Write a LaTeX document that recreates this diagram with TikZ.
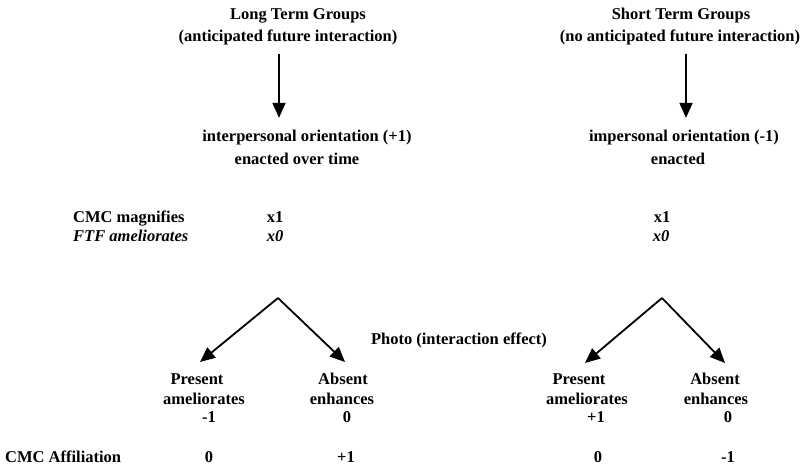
\documentclass[tikz,border=0pt]{standalone}
\usepackage{fontspec}
\setmainfont{Liberation Serif}
\usetikzlibrary{arrows.meta}
\tikzset{
  lbl/.style={anchor=base,inner sep=0pt,font=\fontsize{16.5}{19}\selectfont\bfseries},
  ilbl/.style={lbl,font=\fontsize{16.5}{19}\selectfont\bfseries\itshape},
  arr/.style={line width=1.8pt,-{Triangle[length=15pt,width=13pt]}}
}
\begin{document}
\begin{tikzpicture}[x=1pt,y=-1pt]
\useasboundingbox (0,0) rectangle (803,472);
% titles
\node[lbl] (LT1) at (298,19.5) {Long Term Groups};
\node[lbl] (LT2) at (288,41.5) {(anticipated future interaction)};
\node[lbl] (ST1) at (681,19.5) {Short Term Groups};
\node[lbl] (ST2) at (680,41.5) {(no anticipated future interaction)};
% orientations
\node[lbl] (IO1) at (307,141.5) {interpersonal orientation (+1)};
\node[lbl] (IO2) at (297,164.5) {enacted over time};
\node[lbl] (MO1) at (684,141.5) {impersonal orientation (-1)};
\node[lbl] (MO2) at (678,164.5) {enacted};
\draw[arr,shorten <=9pt,shorten >=12pt] (LT2.south -| 279,0) -- (279,0 |- IO1.north);
\draw[arr,shorten <=9pt,shorten >=12pt] (ST2.south -| 686,0) -- (686,0 |- MO1.north);
% moderators
\node[lbl,anchor=base west] (CM) at (73,222.5) {CMC magnifies};
\node[ilbl,anchor=base west] (FA) at (73,241.5) {FTF ameliorates};
\node[lbl] (x1L) at (275,222.5) {x1};
\node[ilbl] (x0L) at (275,241.5) {x0};
\node[lbl] (x1R) at (662,222.5) {x1};
\node[ilbl] (x0R) at (661,241.5) {x0};
% carets
\coordinate (pkL) at (278,298);
\coordinate (aL) at (200,362);
\coordinate (bL) at (345,362);
\coordinate (pkR) at (662,298);
\coordinate (aR) at (585,363);
\coordinate (bR) at (725,363);
\draw[arr] (pkL) -- (aL);
\draw[arr] (pkL) -- (bL);
\draw[arr] (pkR) -- (aR);
\draw[arr] (pkR) -- (bR);
\node[lbl] (PH) at (459,344) {Photo (interaction effect)};
% outcomes left
\node[lbl] (PL1) at (197,384.5) {Present};
\node[lbl] (PL2) at (204,404.5) {ameliorates};
\node[lbl] (PL3) at (209,422.5) {-1};
\node[lbl] (AL1) at (343,384.5) {Absent};
\node[lbl] (AL2) at (342,404.5) {enhances};
\node[lbl] (AL3) at (347,422.5) {0};
% outcomes right
\node[lbl] (PR1) at (579,384.5) {Present};
\node[lbl] (PR2) at (587,404.5) {ameliorates};
\node[lbl] (PR3) at (596,422.5) {+1};
\node[lbl] (AR1) at (715,384.5) {Absent};
\node[lbl] (AR2) at (716,404.5) {enhances};
\node[lbl] (AR3) at (728,422.5) {0};
% affiliation row
\node[lbl,anchor=base west] (CA) at (5,462.5) {CMC Affiliation};
\node[lbl] (CA1) at (209,462.5) {0};
\node[lbl] (CA2) at (346,462.5) {+1};
\node[lbl] (CA3) at (598,462.5) {0};
\node[lbl] (CA4) at (728,462.5) {-1};
\end{tikzpicture}
\end{document}
